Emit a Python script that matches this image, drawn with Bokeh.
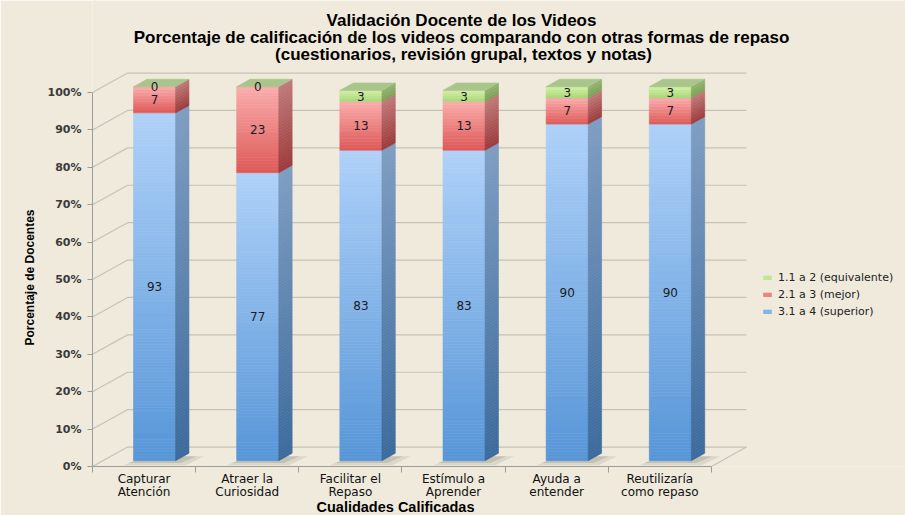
import numpy as np
from bokeh.plotting import figure
from bokeh.models import (Range1d, FixedTicker, Title, Legend, LegendItem, ColumnDataSource, Label)
from bokeh.core.properties import value
from bokeh.embed import file_html
from bokeh.resources import INLINE

# ---------------- data ----------------
categories = ["Capturar\nAtención", "Atraer la\nCuriosidad", "Facilitar el\nRepaso",
              "Estímulo a\nAprender", "Ayuda a\nentender", "Reutilizaría\ncomo repaso"]
superior = [93, 77, 83, 83, 90, 90]      # 3.1 a 4 (superior)
mejor = [7, 23, 13, 13, 7, 7]            # 2.1 a 3 (mejor)
equivalente = [0, 0, 3, 3, 3, 3]         # 1.1 a 2 (equivalente)
series_names = ["3.1 a 4 (superior)", "2.1 a 3 (mejor)", "1.1 a 2 (equivalente)"]
y_ticks = [0, 10, 20, 30, 40, 50, 60, 70, 80, 90, 100]
y_tick_labels = ["0%", "10%", "20%", "30%", "40%", "50%", "60%", "70%", "80%", "90%", "100%"]
title_lines = ["Validación Docente de los Videos",
               "Porcentaje de calificación de los videos comparando con otras formas de repaso",
               "(cuestionarios, revisión grupal, textos y notas)"]
x_title = "Cualidades Calificadas"
y_title = "Porcentaje de Docentes"

# ---------------- style ----------------
BG = "#efeadc"
GRID = "#c6c2b6"
AXIS = "#9c9c98"
# (front top, front bottom, side top, side bottom)
COLS = [("#afd1f9", "#5796d8", "#7e9dc2", "#3b6a9c"),
        ("#fbadad", "#dd5957", "#c07a7a", "#9c3a3a"),
        ("#d2efa4", "#a9d67a", "#93b46e", "#7e9f58")]
TOP_FACE = "#a9c58c"

# layout (pixels)
W, H = 905, 515
FL, FB = 92, 49            # frame left / bottom border
PX_UNIT, PX_PCT = 103.15, 3.74

# 3D geometry (in data units)
DX, DY = 0.34, 5.2          # depth of the floor
FX, FY = 0.3 * DX, 0.3 * DY # bar front-plane offset
BW = 0.408                  # bar width
DDX, DDY = 0.38 * DX, 0.38 * DY  # bar depth

n = len(categories)
p = figure(width=W, height=H,
           x_range=Range1d(-0.5, -0.5 + (W - FL) / PX_UNIT),
           y_range=Range1d(0, (H - FB) / PX_PCT), output_backend="svg",
           toolbar_location=None, title=None,
           background_fill_color=BG, border_fill_color=BG, outline_line_color=None,
           min_border_left=FL, min_border_right=0, min_border_top=0, min_border_bottom=FB)
p.xgrid.visible = False
p.ygrid.visible = False

# ---------------- 3D grid ----------------
gx, gy = [], []
for t in y_ticks:
    gx.append([-0.5, -0.5 + DX, n - 0.5 + DX])
    gy.append([t, t + DY, t + DY])
gx.append([n - 0.5, n - 0.5 + DX])
gy.append([0, DY])
p.multi_line(gx, gy, line_color=GRID, line_width=1.2)

def lerp(c1, c2, u):
    a = np.array([int(c1[i:i + 2], 16) for i in (1, 3, 5)], float)
    b = np.array([int(c2[i:i + 2], 16) for i in (1, 3, 5)], float)
    c = a + (b - a) * u
    return "#%02x%02x%02x" % tuple(int(round(v)) for v in c)

# soft shadows on the floor
for grow, alpha in ((0.10, 0.10), (0.05, 0.14)):
    sx, sy = [], []
    for i in range(n):
        x0 = i + FX - BW / 2
        x1 = x0 + BW
        sx.append([x0 - grow, x1 + grow, x1 + DDX + grow * 1.5, x0 + DDX])
        sy.append([FY - grow * 12, FY - grow * 12, FY + DDY * 0.6, FY + DDY * 0.6])
    p.patches(sx, sy, fill_color="#3a3628", fill_alpha=alpha, line_color=None)

# ---------------- bars ----------------
series = [superior, mejor, equivalente]
front = [dict(l=[], r=[], b=[], t=[], c=[]) for _ in series]
legend_idx = [None] * len(series)
px_, py_, pc = [], [], []
tx, ty, tt = [], [], []
topx, topy = [], []
for i in range(n):
    x0 = i + FX - BW / 2
    x1 = x0 + BW
    base = FY
    for s, vals in enumerate(series):
        v = vals[i]
        b, t = base, base + v
        if v > 0:
            k = max(2, int(np.ceil(v / 0.8)))
            edges = np.linspace(b, t, k + 1)
            if legend_idx[s] is None:
                legend_idx[s] = len(front[s]["l"]) + k // 2
            for j in range(k):
                u = (j + 0.5) / k  # 0 bottom -> 1 top
                f = front[s]
                f["l"].append(x0); f["r"].append(x1)
                f["b"].append(edges[j]); f["t"].append(edges[j + 1])
                f["c"].append(lerp(COLS[s][1], COLS[s][0], u))
                px_.append([x1, x1 + DDX, x1 + DDX, x1])
                py_.append([edges[j], edges[j] + DDY, edges[j + 1] + DDY, edges[j + 1]])
                pc.append(lerp(COLS[s][3], COLS[s][2], u))
        tx.append(i + FX)
        ty.append((b + t) / 2)
        tt.append(str(v))
        base = t
    topx.append([x0, x1, x1 + DDX, x0 + DDX])
    topy.append([base, base, base + DDY, base + DDY])

front_r = []
for s in range(len(series)):
    f = front[s]
    src_f = ColumnDataSource(dict(left=f["l"], right=f["r"], bottom=f["b"], top=f["t"], color=f["c"]))
    front_r.append(p.quad(left="left", right="right", bottom="bottom", top="top", source=src_f,
                          fill_color="color", line_color="color", line_width=0.6))
p.patches(px_, py_, fill_color=pc, line_color=pc, line_width=0.6)
p.patches(topx, topy, fill_color=TOP_FACE, line_color=TOP_FACE, line_width=0.6)

src = ColumnDataSource(dict(x=tx, y=ty, t=tt))
p.text(x="x", y="y", text="t", source=src, text_align="center", text_baseline="middle",
       text_font=value("DejaVu Sans"), text_font_size="12px", text_color="#1b1b22")

# ---------------- axes ----------------
xa = p.xaxis[0]
xa.ticker = FixedTicker(ticks=list(range(n)), minor_ticks=[i - 0.5 for i in range(n + 1)])
xa.major_label_overrides = {i: categories[i] for i in range(n)}
xa.bounds = (-0.5, n - 0.5)
xa.major_tick_out = 0
xa.major_tick_in = 0
xa.minor_tick_out = 6
xa.minor_tick_in = 0
xa.minor_tick_line_color = AXIS
xa.axis_line_color = AXIS
xa.major_label_standoff = -1
xa.major_label_text_font = "DejaVu Sans"
xa.major_label_text_font_size = "12px"
xa.major_label_text_line_height = 0.95
xa.major_label_text_color = "#111111"

ya = p.yaxis[0]
ya.ticker = FixedTicker(ticks=y_ticks)
ya.major_label_overrides = {y_ticks[i]: y_tick_labels[i] for i in range(len(y_ticks))}
ya.bounds = (0, 100)
ya.major_tick_out = 5
ya.major_tick_in = 0
ya.minor_tick_out = 0
ya.minor_tick_in = 0
ya.major_tick_line_color = AXIS
ya.axis_line_color = AXIS
ya.major_label_standoff = 6
ya.major_label_text_font = "DejaVu Sans"
ya.major_label_text_font_style = "bold"
ya.major_label_text_font_size = "11px"
ya.major_label_text_color = "#3a3a3a"

# axis titles (as side-panel titles so they can be placed like the original)
p.add_layout(Title(text=x_title, align="left", offset=224, standoff=-10,
                   text_font="Liberation Sans", text_font_style="bold",
                   text_font_size="14.5px", text_color="#000000"), "below")
p.add_layout(Title(text=y_title, align="left", offset=121, standoff=16,
                   text_font="Liberation Sans", text_font_style="bold",
                   text_font_size="12px", text_color="#000000"), "left")

# ---------------- chart titles ----------------
title_pos = [(369, 446), (369, 429), (371, 412.5)]
for line, (lx, ly) in zip(title_lines, title_pos):
    p.add_layout(Label(x=lx, y=ly, x_units="screen", y_units="screen", text=line,
                       text_align="center", text_baseline="middle",
                       text_font="Liberation Sans", text_font_style="bold",
                       text_font_size="17px", text_color="#000000"))

# ---------------- legend ----------------
legend = Legend(items=[LegendItem(label=series_names[s], renderers=[front_r[s]], index=legend_idx[s])
                       for s in (2, 1, 0)],
                location=(670, 148), orientation="vertical", glyph_width=10, glyph_height=5,
                label_standoff=6, label_height=14, spacing=3, padding=0, margin=0,
                border_line_color=None, background_fill_alpha=0,
                label_text_font="DejaVu Sans", label_text_font_size="11px",
                label_text_color="#222222")
p.add_layout(legend, "center")

open("out.html", "w").write(file_html(p, INLINE))
